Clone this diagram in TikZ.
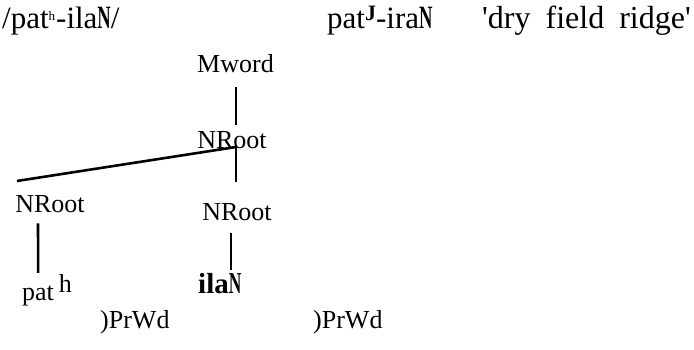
\documentclass[tikz,border=0pt]{standalone}
\usepackage{fontspec}
\setmainfont{Liberation Serif}[Ligatures=TeXOff]
\usepackage{graphicx}
% bold, narrow N used for the velar nasal
\newcommand\velN{\textbf{\scalebox{0.6}[1.05]{N}}}
\begin{document}
\begin{tikzpicture}[x=1pt,y=-1pt,
  gloss/.style={font=\fontsize{31}{36}\selectfont, inner sep=0pt, anchor=base west},
  lab/.style={font=\fontsize{26}{30}\selectfont, inner sep=0pt, anchor=base},
  branch/.style={line width=2.6pt}]
\useasboundingbox (0,0) rectangle (694,349);
% header line
\node[gloss] (under) at (2,28) {/pat\raisebox{8pt}{\fontsize{13}{13}\selectfont h}\hspace{1pt}-ila\velN/};
\node[gloss] (surf) at (327,28) {pat\raisebox{8pt}{\fontsize{22}{22}\selectfont\textbf{J}}-ira\velN};
\node[gloss, font=\fontsize{32}{36}\selectfont] (mean) at (482,28) {'dry\hspace{15pt}field\hspace{15pt}ridge'};
% tree
\node[lab] (mword) at (235.5,72) {Mword};
\node[lab] (nrm) at (232,148) {NRoot};
\node[lab] (nrl) at (50,212) {NRoot};
\node[lab] (nrr) at (237,220) {NRoot};
\node[lab, anchor=base west] (pat) at (22,300) {pat\hspace{5pt}\raisebox{8pt}{h}};
\node[lab, anchor=base west, font=\fontsize{29}{32}\selectfont] (ila) at (198,293) {\textbf{ila}\velN};
\node[lab, anchor=base west] (pw1) at (100,328) {)PrWd};
\node[lab, anchor=base west] (pw2) at (313,328) {)PrWd};
\draw[branch] ([xshift=0.5pt,yshift=-15pt]mword.south) -- ([xshift=4pt,yshift=5.8pt]nrm.north);
\draw[branch] ([xshift=4pt,yshift=1pt]nrm.base) -- ([xshift=-33pt,yshift=13.8pt]nrl.north);
\draw[branch] ([xshift=4pt,yshift=1pt]nrm.base) -- ([xshift=-1pt,yshift=20.8pt]nrr.north);
\draw[branch] ([xshift=-12pt,yshift=-11pt]nrl.south) -- ([xshift=-8.9pt,yshift=1pt]pat.north);
\coordinate (ilatop) at ([xshift=-6pt,yshift=-13pt]nrr.south);
\coordinate (ilabot) at (ilatop |- ila.north);
\draw[branch] (ilatop) -- ([yshift=3pt]ilabot);
\end{tikzpicture}
\end{document}
